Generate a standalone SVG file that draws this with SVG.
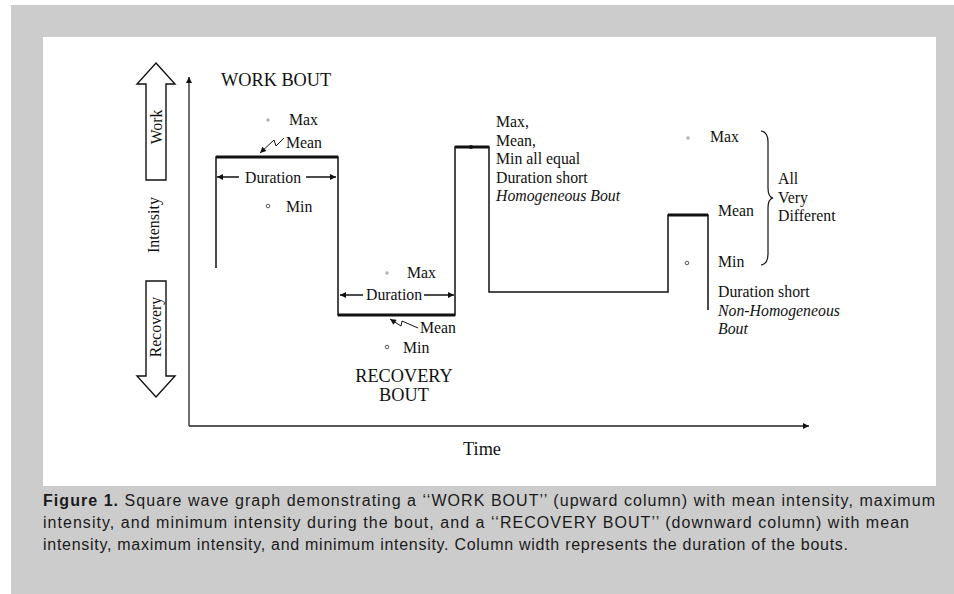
<svg xmlns="http://www.w3.org/2000/svg" width="954" height="594" viewBox="0 0 954 594">
<style>
.t{font-family:"Liberation Serif","Times New Roman",serif;font-size:15.8px;fill:#111}
.big{font-size:18.3px}
.it{font-style:italic}
.cap{font-family:"Liberation Sans",Arial,sans-serif;font-size:16px;fill:#1a1a1a}
.w{fill:none;stroke:#111;stroke-width:1.5}
.thick{fill:none;stroke:#111;stroke-width:3}
.ax{fill:none;stroke:#222;stroke-width:1.3}
.hol{fill:#fff;stroke:#111;stroke-width:1.4}
.mk{fill:none;stroke:#888;stroke-width:0.8}
</style>
<defs>
<marker id="ah" viewBox="0 0 10 10" refX="10" refY="5" markerWidth="8" markerHeight="6" markerUnits="userSpaceOnUse" orient="auto">
<path d="M0,0 L10,5 L0,10 z" fill="#111"/>
</marker>
<marker id="ahs" viewBox="0 0 10 10" refX="10" refY="5" markerWidth="7" markerHeight="6" markerUnits="userSpaceOnUse" orient="auto">
<path d="M0,0 L10,5 L0,10 z" fill="#111"/>
</marker>
</defs>
<rect x="11" y="5" width="943" height="589" fill="#cccccc"/>
<rect x="43" y="37" width="893" height="449" fill="#ffffff"/>

<g id="axes">
<line class="ax" x1="189" y1="426" x2="189" y2="77" marker-end="url(#ah)"/>
<line class="ax" x1="189" y1="426" x2="809" y2="426" marker-end="url(#ah)"/>
<text class="t big" x="482" y="455" text-anchor="middle">Time</text>
<text class="t" x="0" y="0" text-anchor="middle" transform="translate(159,225) rotate(-90)" style="font-size:16px">Intensity</text>
</g>

<g id="work-arrow">
<polygon class="hol" points="156,63 175,84 166,84 166,180 146,180 146,84 137,84"/>
<text class="t" x="0" y="0" text-anchor="middle" transform="translate(162,127) rotate(-90)">Work</text>
</g>

<g id="recovery-arrow">
<polygon class="hol" points="146,281 166,281 166,376 175,376 156,397 137,376 146,376"/>
<text class="t" x="0" y="0" text-anchor="middle" transform="translate(161,327) rotate(-90)">Recovery</text>
</g>

<g id="wave">
<path class="w" d="M216,268 V157 H338 V315 H455 V147 H489 V292 H668 V215 H708 V310"/>
<line class="thick" x1="216" y1="157" x2="338" y2="157"/>
<line class="thick" x1="338" y1="315" x2="455" y2="315"/>
<line class="thick" x1="455" y1="147" x2="489" y2="147"/>
<line class="thick" x1="668" y1="215" x2="708" y2="215"/>
<circle cx="471" cy="147" r="2" fill="#111"/>
</g>

<g id="work-bout">
<text class="t big" x="221" y="86">WORK BOUT</text>
<path class="mk" d="M266,120 H270 M268,118 V122"/>
<text class="t" x="289" y="125">Max</text>
<text class="t" x="286" y="148">Mean</text>
<text class="t" x="245" y="183">Duration</text>
<circle cx="268" cy="206" r="1.8" fill="none" stroke="#333" stroke-width="0.8"/>
<text class="t" x="286" y="212">Min</text>
</g>

<g id="recovery-bout">
<path class="mk" d="M385,273 H389 M387,271 V275"/>
<text class="t" x="407" y="278">Max</text>
<text class="t" x="366" y="300">Duration</text>
<text class="t" x="420" y="333">Mean</text>
<circle cx="387" cy="347" r="1.8" fill="none" stroke="#333" stroke-width="0.8"/>
<text class="t" x="403" y="353">Min</text>
<text class="t big" x="404" y="382" text-anchor="middle">RECOVERY</text>
<text class="t big" x="404" y="401" text-anchor="middle">BOUT</text>
</g>

<g id="homogeneous-bout">
<text class="t" x="496" y="127">Max,</text>
<text class="t" x="496" y="146">Mean,</text>
<text class="t" x="496" y="164">Min all equal</text>
<text class="t" x="496" y="183">Duration short</text>
<text class="t it" x="496" y="201">Homogeneous Bout</text>
</g>

<g id="non-homogeneous-bout">
<path class="mk" d="M686,138 H690 M688,136 V140"/>
<text class="t" x="710" y="142">Max</text>
<text class="t" x="718" y="216">Mean</text>
<circle cx="687" cy="263" r="1.8" fill="none" stroke="#333" stroke-width="0.8"/>
<text class="t" x="718" y="267">Min</text>
<text class="t" x="718" y="297">Duration short</text>
<text class="t it" x="718" y="316">Non-Homogeneous</text>
<text class="t it" x="718" y="334">Bout</text>
<path d="M761,131 Q768,132 768,142 V188 Q768,197 773,198 Q768,199 768,208 V254 Q768,264 761,265" fill="none" stroke="#111" stroke-width="1.2"/>
<text class="t" x="778" y="184">All</text>
<text class="t" x="778" y="203">Very</text>
<text class="t" x="778" y="221">Different</text>
</g>

<g id="connectors">
<line class="w" x1="239" y1="177" x2="217" y2="177" stroke-width="1.2" marker-end="url(#ahs)"/>
<line class="w" x1="306" y1="177" x2="336" y2="177" stroke-width="1.2" marker-end="url(#ahs)"/>
<line class="w" x1="363" y1="295" x2="340" y2="295" stroke-width="1.2" marker-end="url(#ahs)"/>
<line class="w" x1="424" y1="295" x2="454" y2="295" stroke-width="1.2" marker-end="url(#ahs)"/>
<path d="M284,138 L276,146 L274,140 L260,153" fill="none" stroke="#111" stroke-width="1" marker-end="url(#ahs)"/>
<path d="M418,328 L402,321 L401,326 L390,319" fill="none" stroke="#111" stroke-width="1" marker-end="url(#ahs)"/>
</g>

<g id="caption">
<text class="cap" x="43" y="506" textLength="892" lengthAdjust="spacing"><tspan font-weight="bold">Figure 1.</tspan> Square wave graph demonstrating a ‘‘WORK BOUT’’ (upward column) with mean intensity, maximum</text>
<text class="cap" x="43" y="528" textLength="866" lengthAdjust="spacing">intensity, and minimum intensity during the bout, and a ‘‘RECOVERY BOUT’’ (downward column) with mean</text>
<text class="cap" x="43" y="550" textLength="805" lengthAdjust="spacing">intensity, maximum intensity, and minimum intensity. Column width represents the duration of the bouts.</text>
</g>
</svg>
